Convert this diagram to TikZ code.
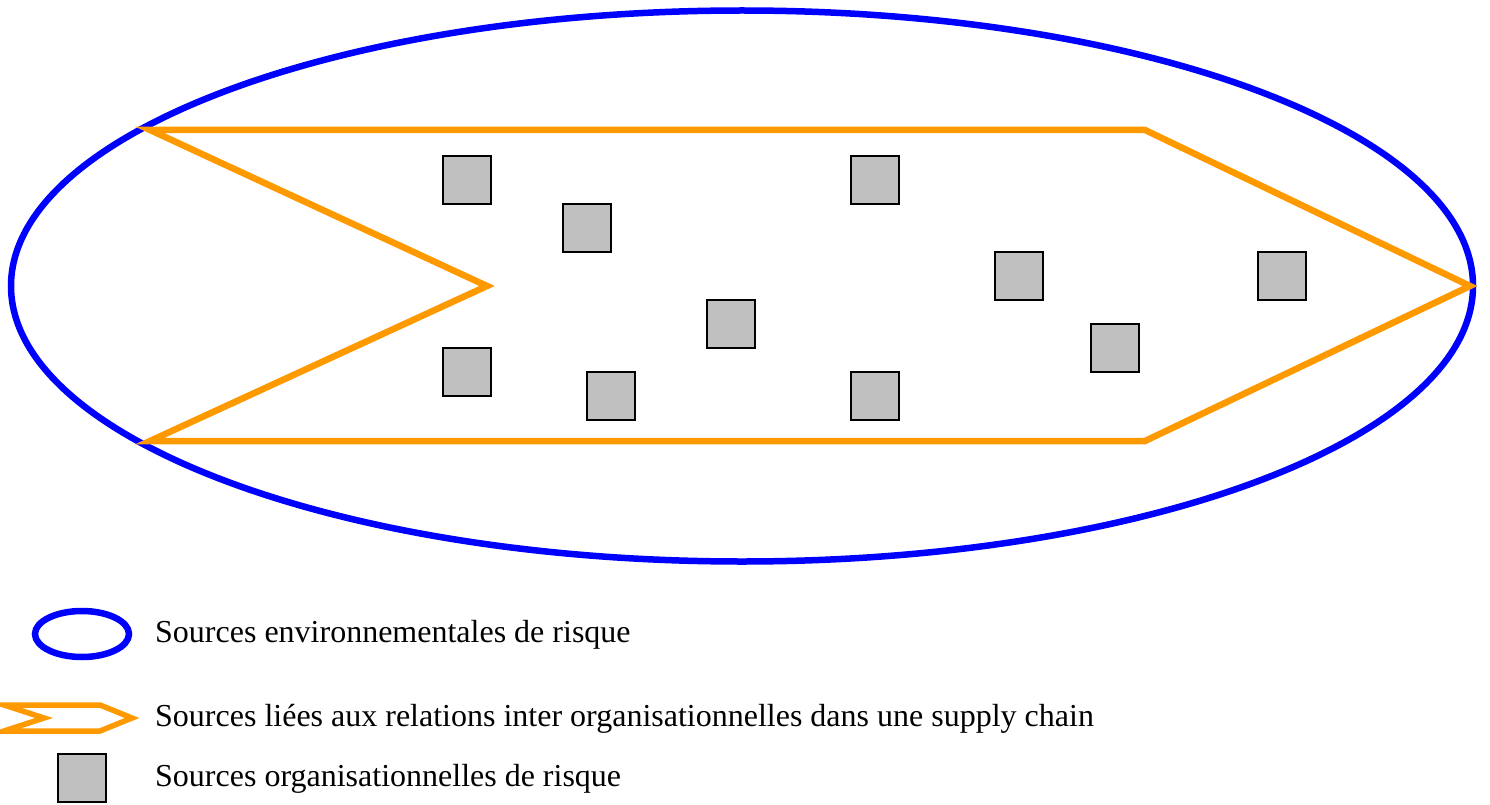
\documentclass[tikz,border=0pt]{standalone}
\usepackage{fontspec}
\setmainfont{Liberation Serif}
\usepackage{xcolor}
\usepackage{tikz}
\usetikzlibrary{positioning}
\definecolor{envcolor}{RGB}{0, 0, 255}
\definecolor{chaincolor}{RGB}{255, 153, 0}
\definecolor{orgcolor}{RGB}{192, 192, 192}

\begin{document}
\begin{tikzpicture}[x=1pt, y=-1pt,
    envline/.style={draw=envcolor, line width=6.5pt},
    chainline/.style={draw=chaincolor, line width=6.5pt, line join=miter},
    orgbox/.style={draw=black, fill=orgcolor, line width=2pt, minimum size=48pt, inner sep=0pt},
    legendtext/.style={anchor=west, font=\fontsize{32}{37}\selectfont, inner sep=0pt}]
        \useasboundingbox (0,0) rectangle (1490,805);

        % Environment
        \draw[envline] (742,286) ellipse [x radius=731, y radius=275.5];

        % Supply chain
        \draw[chainline] (150,130) -- (1145,130) -- (1470,286) -- (1145,441)
          -- (150,441) -- (487,286) -- cycle;

        % Organisations
        \foreach \x/\y [count=\i] in {467/180, 587/228, 875/180, 1019/276, 1282/276,
            731/324, 1115/348, 467/372, 611/396, 875/396}
          \node[orgbox] (s\i) at (\x,\y) {};

        % Legend
        \draw[envline] (82,634) ellipse [x radius=47, y radius=23];
        \node[legendtext] (envlabel) at (155,635) {Sources environnementales de risque};

        \draw[chainline, line width=5.5pt] (4,705) -- (100,705) -- (132,718) -- (100,731)
          -- (4,731) -- (44,718) -- cycle;
        \node[legendtext] (chainlabel) at (155,719) {Sources liées aux relations inter organisationnelles dans une supply chain};

        \node[orgbox] (orglegend) at (82,778) {};
        \node[legendtext] (orglabel) at (155,779) {Sources organisationnelles de risque};
      \end{tikzpicture}
\end{document}
